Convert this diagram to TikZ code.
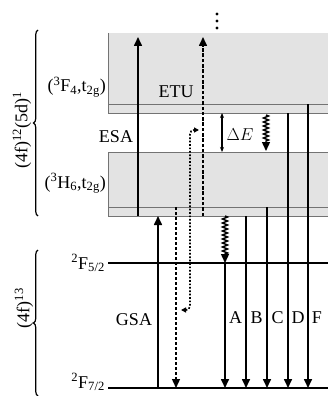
\documentclass[tikz,border=0pt]{standalone}
\usepackage{fontspec}
\setmainfont{Liberation Serif}
\usetikzlibrary{arrows.meta,decorations.pathreplacing,decorations.pathmorphing}

\begin{document}
\begin{tikzpicture}[
    x=1pt, y=-1pt,
    >={Triangle[length=9pt,width=8pt]},
    band/.style={fill=black!11},
    rim/.style={draw=black!55, line width=1pt},
    level/.style={line width=1.6pt},
    trans/.style={->, line width=1.6pt},
    etu/.style={trans, dash pattern=on 3.5pt off 1.8pt},
    back/.style={trans, line width=1.4pt, dash pattern=on 3pt off 2pt},
    xfer/.style={{Triangle[length=5pt,width=5pt]}-{Triangle[length=5pt,width=5pt]},
      line width=1.7pt, dash pattern=on 1.7pt off 1.7pt, rounded corners=4pt},
    relax/.style={->, line width=1.4pt, decorate,
      decoration={zigzag, amplitude=2.5pt, segment length=4pt, post length=9pt}},
    gap/.style={{Stealth[length=5pt,width=4pt]}-{Stealth[length=5pt,width=4pt]}, line width=1.1pt},
    lbl/.style={font=\fontsize{18}{20}\selectfont, inner sep=0pt},
    grp/.style={decorate, decoration={brace, amplitude=4.5pt}, line width=1.2pt},
  ]
  \useasboundingbox (0,0) rectangle (328,396);
  \clip (0,0) rectangle (328,396);

  % level heights and transition columns
  \foreach \n/\y in {tip/37, upin/104, upbot/113, lowtop/152, lowin/207,
      lowbot/216, f52/263, f72/388}
    \coordinate (y\n) at (0,\y);
  \foreach \n/\x in {esa/138, gsa/158, back/176, hop/190, up/203, gap/222,
      A/225, B/246, C/267, D/288, F/308}
    \coordinate (x\n) at (\x,0);

  % (4f)^12(5d)^1 bands
  \fill[band] (108,33) rectangle (340,113);
  \draw[rim] (108,33) -- (108,113) -- (340,113);
  \draw[rim] (108,104) -- (340,104);
  \fill[band] (108,152) rectangle (340,216);
  \draw[rim] (340,152) -- (108,152) -- (108,216) -- (340,216);
  \draw[rim] (108,207) -- (340,207);

  % (4f)^13 levels
  \draw[level] (108,263) -- (340,263);
  \draw[level] (108,388) -- (340,388);

  % level labels
  \node[lbl, anchor=base east] (f4) at (106,92)
    {(\textsuperscript{3}F\textsubscript{4},t\textsubscript{2g})};
  \node[lbl, anchor=base east] (h6) at (106,188)
    {(\textsuperscript{3}H\textsubscript{6},t\textsubscript{2g})};
  \node[lbl, anchor=base east] (f52) at (105,269) {\textsuperscript{2}F\textsubscript{5/2}};
  \node[lbl, anchor=base east] (f72) at (105,388) {\textsuperscript{2}F\textsubscript{7/2}};

  % configurations
  \draw[grp] (38,216) -- (38,30);
  \node[lbl, rotate=90] (cfgd) at (22,130) {(4f)\textsuperscript{12}(5d)\textsuperscript{1}};
  \draw[grp] (38,396) -- (38,250);
  \node[lbl, rotate=90] (cfgf) at (24,308) {(4f)\textsuperscript{13}};

  % absorption and upconversion
  \draw[trans] (xesa |- ylowbot) -- (xesa |- ytip);
  \draw[trans] (xgsa |- yf72) -- (xgsa |- ylowbot);
  \draw[etu] (xup |- ylowbot) -- (xup |- ytip);
  \draw[back] (xback |- ylowin) -- (xback |- yf72);
  \coordinate (hopa) at (181,310);
  \coordinate (hopb) at (199,130);
  \draw[xfer] (hopa) -| (xhop |- hopb) -- (hopb);
  \foreach \y in {14,21,28}
    \fill (217,\y) circle (1.6pt);

  \node[lbl, anchor=base] (esa) at (116,142) {ESA};
  \node[lbl, anchor=base] (etu) at (176,97) {ETU};
  \node[lbl, anchor=base] (gsa) at (134,325) {GSA};

  % gap and relaxation
  \draw[gap] (xgap |- yupbot) -- (xgap |- ylowtop);
  \node[lbl, anchor=base] (de) at (240,140) {$\Delta E$};
  \draw[relax] (266,115) -- (266,151);
  \draw[relax] (xA |- ylowbot) -- (xA |- yf52);

  % emissions
  \draw[trans] (xA |- yf52) -- (xA |- yf72);
  \draw[trans] (xB |- ylowbot) -- (xB |- yf72);
  \draw[trans] (xC |- ylowin) -- (xC |- yf72);
  \draw[trans] (xD |- yupbot) -- (xD |- yf72);
  \draw[trans] (xF |- yupin) -- (xF |- yf72);
  \foreach \t/\x in {A/235.5, B/256.5, C/277.5, D/298, F/317}
    \node[lbl, anchor=base] (l\t) at (\x,323) {\t};
\end{tikzpicture}
\end{document}
